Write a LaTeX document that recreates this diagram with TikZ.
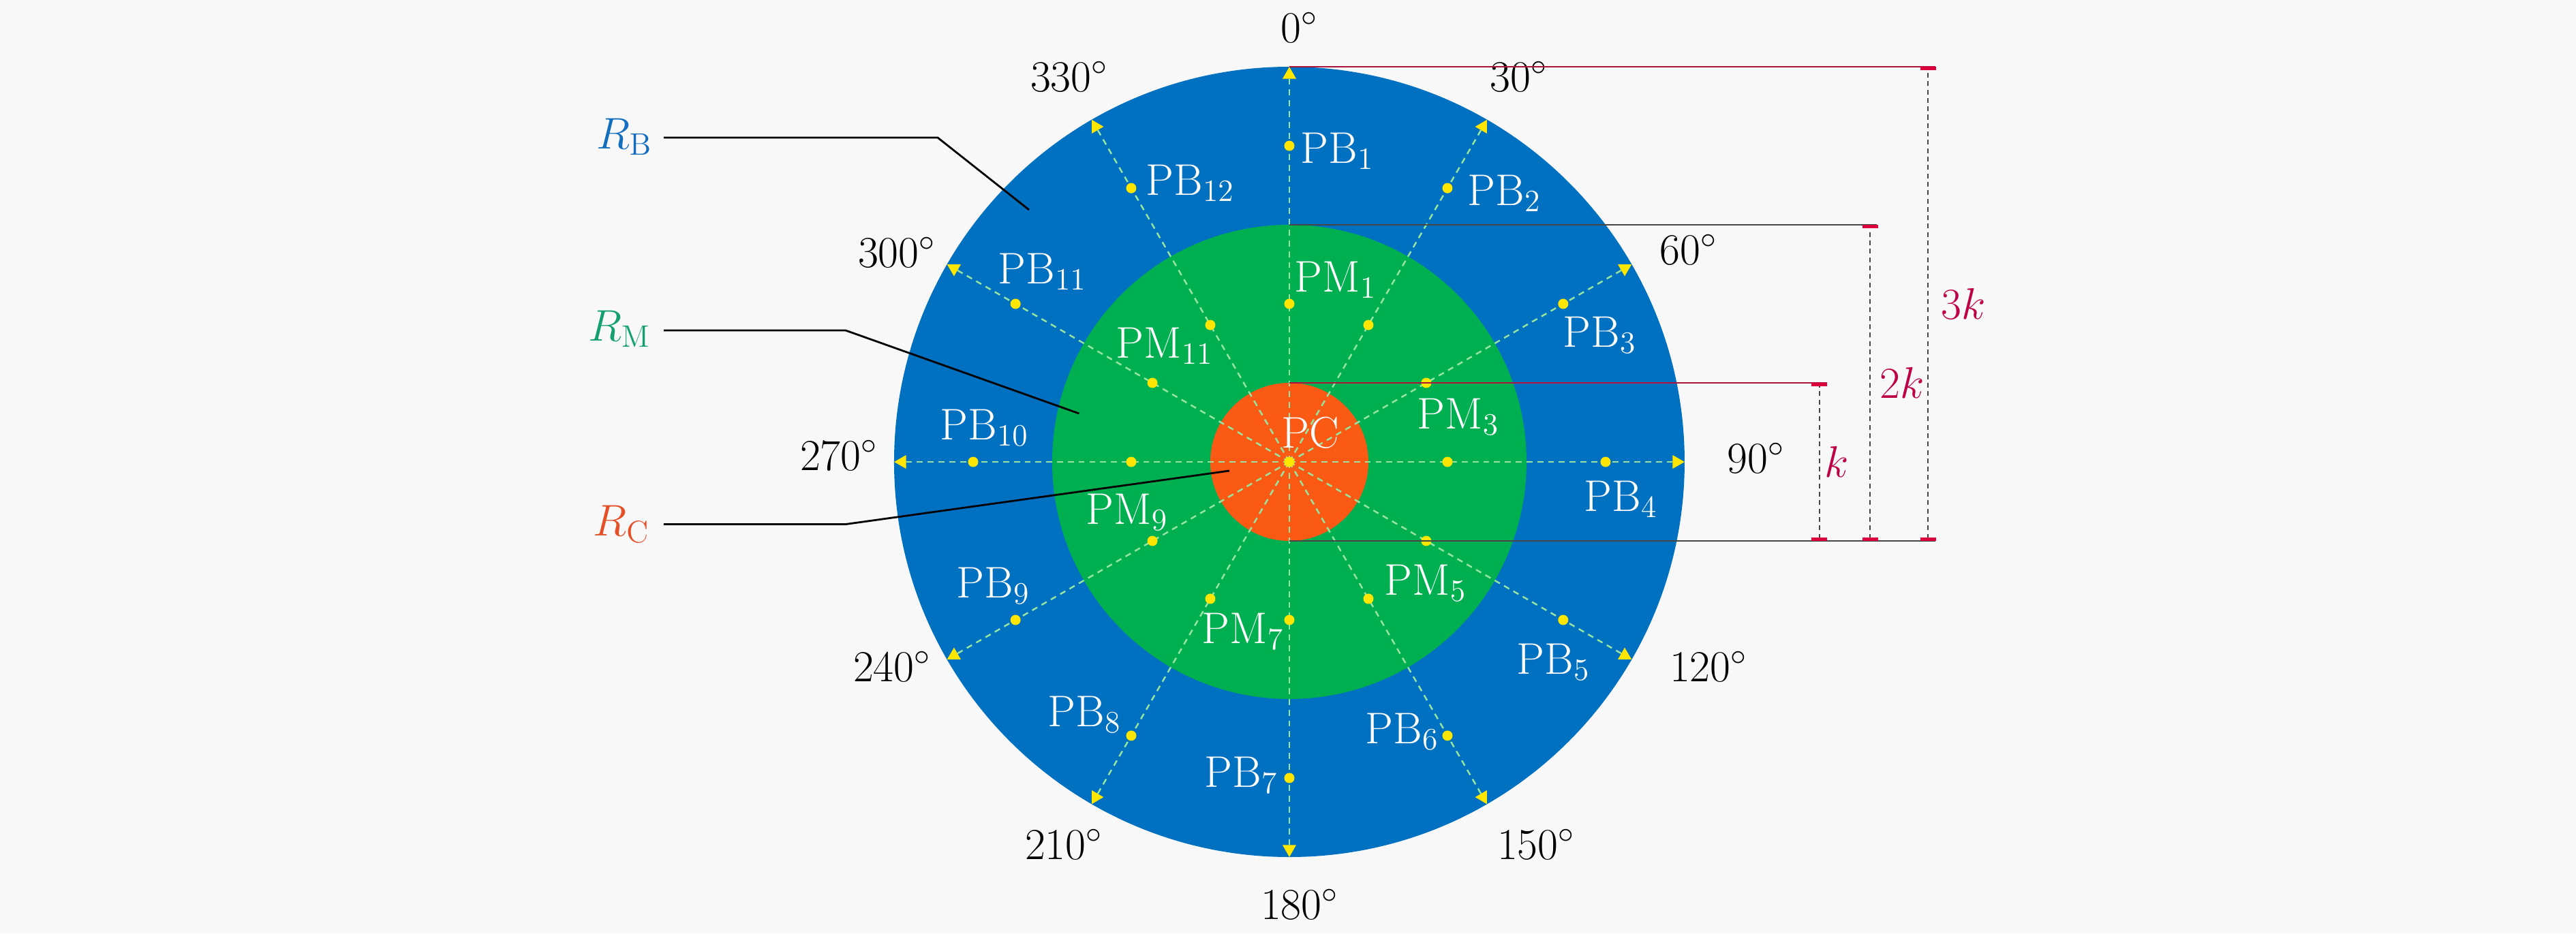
\RequirePackage{fix-cm}
\documentclass[tikz,border=0pt]{standalone}
\usetikzlibrary{arrows.meta}
\definecolor{bg}{RGB}{248,248,248}
\definecolor{ringB}{RGB}{0,112,192}
\definecolor{ringM}{RGB}{0,176,80}
\definecolor{ringC}{RGB}{250,90,20}
\definecolor{rayc}{RGB}{150,228,160}
\definecolor{dotc}{RGB}{255,230,0}
\definecolor{dimred}{RGB}{170,20,60}
\definecolor{dimgray}{RGB}{70,70,70}
\definecolor{klab}{RGB}{190,0,70}
\definecolor{tickc}{RGB}{220,0,60}
\definecolor{labB}{RGB}{20,110,190}
\definecolor{labM}{RGB}{20,160,110}
\definecolor{labC}{RGB}{230,80,40}
\begin{document}
\begin{tikzpicture}[
  every node/.style={font=\fontsize{18.5}{22}\selectfont, inner sep=0pt},
  ray/.style={draw=rayc, line width=0.7pt, dash pattern=on 2.5pt off 2pt,
    -{Triangle[length=5pt,width=5.5pt,fill=dotc,color=dotc]}},
  pt/.style={circle, fill=dotc, minimum size=0.15cm, inner sep=0pt},
  plab/.style={anchor=base west, text=white},
  ang/.style={anchor=base},
  ext/.style={line width=0.8pt},
  dimv/.style={draw=dimgray, line width=0.6pt, dash pattern=on 2pt off 1.5pt,
    {Bar[width=0.23cm,line width=1.3pt,color=tickc]}-{Bar[width=0.23cm,line width=1.3pt,color=tickc]}},
  callout/.style={draw=black, line width=0.8pt}
]
\useasboundingbox (-18.92,-6.92) rectangle (18.88,6.78);
\fill[bg] (-18.92,-6.92) rectangle (18.88,6.78);

% rings
\fill[ringB] (0,0) circle (5.8);
\fill[ringM] (0,0) circle (3.48);
\fill[ringC] (0,0) circle (1.16);

% rays
\coordinate (O) at (0,0);
\foreach \a in {0,30,...,330} {
  \coordinate (E\a) at ({90-\a}:5.8);
  \draw[ray] (O) -- (E\a);
}

% dots
\foreach \a [count=\i] in {0,30,...,330} {
  \node[pt] (pb\i) at ({90-\a}:4.64) {};
  \node[pt] (pm\i) at ({90-\a}:2.32) {};
}
\node[pt] (pc) at (0,0) {};

% point labels
\node[plab] (tPB1)  at (0.16,4.39)  {$\mathrm{PB}_{1}$};
\node[plab] (tPB2)  at (2.61,3.77)  {$\mathrm{PB}_{2}$};
\node[plab] (tPB3)  at (4.01,1.69)  {$\mathrm{PB}_{3}$};
\node[plab] (tPB4)  at (4.32,-0.72) {$\mathrm{PB}_{4}$};
\node[plab] (tPB5)  at (3.33,-3.11) {$\mathrm{PB}_{5}$};
\node[plab] (tPB6)  at (1.11,-4.13) {$\mathrm{PB}_{6}$};
\node[plab] (tPB7)  at (-1.25,-4.77) {$\mathrm{PB}_{7}$};
\node[plab] (tPB8)  at (-3.55,-3.88) {$\mathrm{PB}_{8}$};
\node[plab] (tPB9)  at (-4.89,-1.99) {$\mathrm{PB}_{9}$};
\node[plab] (tPB10) at (-5.13,0.33) {$\mathrm{PB}_{10}$};
\node[plab] (tPB11) at (-4.28,2.62) {$\mathrm{PB}_{11}$};
\node[plab] (tPB12) at (-2.11,3.92) {$\mathrm{PB}_{12}$};
\node[plab] (tPM1)  at (0.07,2.50)  {$\mathrm{PM}_{1}$};
\node[plab] (tPM3)  at (1.87,0.49)  {$\mathrm{PM}_{3}$};
\node[plab] (tPM5)  at (1.39,-1.95) {$\mathrm{PM}_{5}$};
\node[plab] (tPM7)  at (-1.29,-2.66) {$\mathrm{PM}_{7}$};
\node[plab] (tPM9)  at (-2.99,-0.91) {$\mathrm{PM}_{9}$};
\node[plab] (tPM11) at (-2.55,1.53) {$\mathrm{PM}_{11}$};
\node[plab] (tPC)   at (-0.12,0.21) {$\mathrm{PC}$};

% angle labels
\node[ang] (a0)   at (0.144,6.155) {$0^\circ$};
\node[ang] (a30)  at (3.37,5.44)   {$30^\circ$};
\node[ang] (a60)  at (5.86,2.90)   {$60^\circ$};
\node[ang] (a90)  at (6.85,-0.16)  {$90^\circ$};
\node[ang] (a120) at (6.15,-3.22)  {$120^\circ$};
\node[ang] (a150) at (3.62,-5.83)  {$150^\circ$};
\node[ang] (a180) at (0.15,-6.71)  {$180^\circ$};
\node[ang] (a210) at (-3.31,-5.83) {$210^\circ$};
\node[ang] (a240) at (-5.83,-3.22) {$240^\circ$};
\node[ang] (a270) at (-6.61,-0.12) {$270^\circ$};
\node[ang] (a300) at (-5.76,2.86)  {$300^\circ$};
\node[ang] (a330) at (-3.23,5.44)  {$330^\circ$};

% dimension extension lines
\coordinate (h3s) at (0,5.8);   \coordinate (h3e) at (9.48,5.8);
\coordinate (h2s) at (0,3.48);  \coordinate (h2e) at (8.62,3.48);
\coordinate (h1s) at (0,1.16);  \coordinate (h1e) at (7.89,1.16);
\coordinate (h0s) at (0,-1.16); \coordinate (h0e) at (9.48,-1.16);
\draw[dimred, ext]  (h3s) -- (h3e);
\draw[dimgray, ext] (h2s) -- (h2e);
\draw[dimred, ext]  (h1s) -- (h1e);
\draw[dimgray, ext] (h0s) -- (h0e);

% dimension lines
\coordinate (d1a) at (7.78,-1.16); \coordinate (d1b) at (7.78,1.16);
\coordinate (d2a) at (8.52,-1.16); \coordinate (d2b) at (8.52,3.48);
\coordinate (d3a) at (9.37,-1.16); \coordinate (d3b) at (9.37,5.8);
\draw[dimv] (d1a) -- (d1b);
\draw[dimv] (d2a) -- (d2b);
\draw[dimv] (d3a) -- (d3b);
\node[anchor=west, text=klab] (k1) at (7.85,0)    {$k$};
\node[anchor=west, text=klab] (k2) at (8.66,1.16) {$2k$};
\node[anchor=west, text=klab] (k3) at (9.56,2.32) {$3k$};

% callouts
\node[anchor=base, text=labB] (RB) at (-9.76,4.60)  {$R_{\mathrm{B}}$};
\node[anchor=base, text=labM] (RM) at (-9.83,1.78)  {$R_{\mathrm{M}}$};
\node[anchor=base, text=labC] (RC) at (-9.80,-1.087) {$R_{\mathrm{C}}$};
\coordinate (RBs) at (-9.18,4.76);  \coordinate (RBk) at (-5.16,4.76);  \coordinate (RBe) at (-3.82,3.70);
\coordinate (RMs) at (-9.18,1.93);  \coordinate (RMk) at (-6.51,1.93);  \coordinate (RMe) at (-3.085,0.71);
\coordinate (RCs) at (-9.18,-0.915); \coordinate (RCk) at (-6.51,-0.915); \coordinate (RCe) at (-0.88,-0.13);
\draw[callout] (RBs) -- (RBk) -- (RBe);
\draw[callout] (RMs) -- (RMk) -- (RMe);
\draw[callout] (RCs) -- (RCk) -- (RCe);
\end{tikzpicture}
\end{document}
